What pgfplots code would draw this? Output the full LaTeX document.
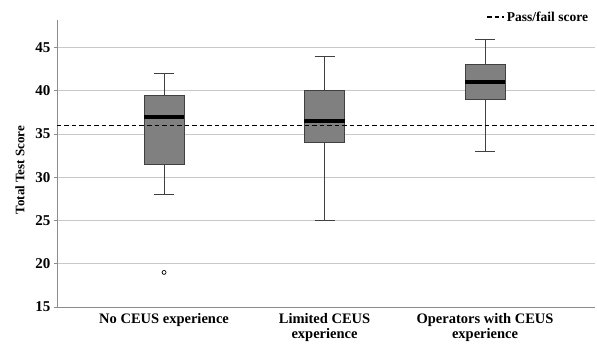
\documentclass[border=0pt]{standalone}
\usepackage{pgfplots}
\pgfplotsset{compat=1.18}
\usepgfplotslibrary{statistics}
\usepackage{fontspec}
\setmainfont{Liberation Serif}
\definecolor{boxgray}{HTML}{808080}
\definecolor{gridgray}{HTML}{C8C8C8}
\definecolor{axgray}{HTML}{8C8C8C}
\begin{document}
\begin{tikzpicture}
\begin{axis}[
  width=538pt, height=287pt, scale only axis,
  xmin=-0.667, xmax=2.685, ymin=15, ymax=48.2,
  axis x line=bottom, axis y line=left,
  axis line style={-, axgray, line width=0.9pt},
  xtick={0,1,2},
  xticklabels={No CEUS experience, Limited CEUS\\experience, Operators with CEUS\\experience},
  xticklabel style={align=center, font=\fontsize{14.5}{15}\selectfont\bfseries},
  x tick style={draw=none},
  ytick={15,20,...,45},
  yticklabel style={font=\fontsize{15}{16}\selectfont\bfseries},
  /pgf/number format/assume math mode=true,
  y tick style={axgray, line width=0.9pt}, tick align=outside, major tick length=3pt,
  ymajorgrids, grid style={gridgray, line width=0.9pt},
  ylabel={Total Test Score},
  ylabel style={font=\fontsize{13}{14}\selectfont\bfseries,
    at={(axis description cs:-0.0688,0.477)}, anchor=center},
  boxplot/draw direction=y,
  boxplot/box extend=0.25,
  boxplot/whisker extend=0.125,
  boxplot/every median/.style={draw=black, line width=4.5pt},
  boxplot/every whisker/.style={draw=black!75, line width=0.9pt},
  boxplot/every box/.style={draw=black!75, line width=0.9pt, fill=boxgray},
  legend style={at={(rel axis cs:0.993,1.01)}, anchor=east, draw=none, fill=none,
    font=\fontsize{13.5}{14}\selectfont\bfseries, inner sep=1pt},
  legend cell align=left,
  clip=false,
]
\addplot[forget plot, boxplot prepared={median=37, upper quartile=39.5, lower quartile=31.5,
  upper whisker=42, lower whisker=28, draw position=0},
  mark=o, mark size=2pt, mark options={black, line width=0.7pt}] coordinates {(0,19)};
\addplot[forget plot, boxplot prepared={median=36.5, upper quartile=40, lower quartile=34,
  upper whisker=44, lower whisker=25, draw position=1}] coordinates {};
\addplot[forget plot, boxplot prepared={median=41, upper quartile=43, lower quartile=39,
  upper whisker=46, lower whisker=33, draw position=2}] coordinates {};
\addplot[black, line width=1.3pt, dash pattern=on 4.5pt off 3pt] coordinates {(-0.667,36) (2.685,36)};
\addlegendentry{Pass/fail score}
\path (rel axis cs:0,0) ++(-57pt,-35pt) coordinate (bbA);
\path (rel axis cs:1,1) ++(2pt,20pt) coordinate (bbB);
\end{axis}
\useasboundingbox (bbA) rectangle (bbB);
\end{tikzpicture}
\end{document}
